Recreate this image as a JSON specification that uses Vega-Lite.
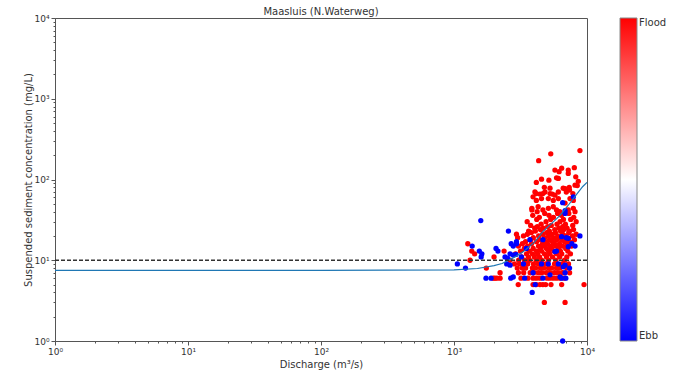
{
  "$schema": "https://vega.github.io/schema/vega-lite/v6.json",
  "width": 532,
  "height": 323,
  "autosize": {"type": "none"},
  "padding": {"left": 55, "top": 18, "right": 90, "bottom": 30},
  "title": {"text": "Maasluis (N.Waterweg)", "fontSize": 10, "fontWeight": "normal", "color": "#333", "offset": -3, "font": "DejaVu Sans"},
  "config": {
    "font": "DejaVu Sans",
    "view": {"stroke": "#555", "strokeWidth": 1},
    "axis": {"grid": false, "labelFontSize": 9, "titleFontSize": 10, "labelColor": "#333", "titleColor": "#333", "titleFontWeight": "normal", "tickColor": "#555", "domainColor": "#555", "labelFlush": false, "labelOverlap": false},
    "legend": {"labelFontSize": 10, "labelColor": "#333"}
  },
  "datasets": {
    "ref": [{"q": 1, "c": 10}, {"q": 10000, "c": 10}],
    "fit": [
      {"q": 1, "c": 7.5}, {"q": 100, "c": 7.5}, {"q": 1000, "c": 7.6}, {"q": 1500, "c": 7.9}, {"q": 2000, "c": 8.6},
      {"q": 2300, "c": 9.1}, {"q": 2875, "c": 11.0}, {"q": 3330, "c": 12.8}, {"q": 4060, "c": 17}, {"q": 4660, "c": 22.6},
      {"q": 5430, "c": 28.6}, {"q": 6270, "c": 36}, {"q": 6840, "c": 43}, {"q": 7230, "c": 48}, {"q": 8130, "c": 62},
      {"q": 9300, "c": 82}, {"q": 10000, "c": 92}
    ],
    "pts": [
      {"q":8850,"c":228,"t":1},{"q":5340,"c":208,"t":1},{"q":4330,"c":171,"t":1},{"q":6450,"c":138,"t":1},{"q":8030,"c":140,"t":1},
      {"q":7230,"c":131,"t":1},{"q":5740,"c":131,"t":1},{"q":6170,"c":125,"t":1},{"q":7230,"c":119,"t":1},{"q":8230,"c":108,"t":1},
      {"q":5900,"c":105,"t":1},{"q":6090,"c":103,"t":1},{"q":4550,"c":101,"t":1},{"q":5170,"c":98,"t":1},{"q":8600,"c":95,"t":1},
      {"q":4160,"c":92,"t":1},{"q":8130,"c":85,"t":1},{"q":8450,"c":84,"t":1},{"q":4780,"c":80,"t":1},{"q":7350,"c":80,"t":1},
      {"q":5270,"c":78,"t":1},{"q":6620,"c":78,"t":1},{"q":6840,"c":77,"t":1},{"q":7390,"c":74,"t":1},{"q":4060,"c":70,"t":1},
      {"q":4830,"c":70,"t":1},{"q":6090,"c":70,"t":1},{"q":6990,"c":70,"t":1},{"q":4160,"c":67,"t":1},{"q":4430,"c":66,"t":1},
      {"q":4660,"c":67,"t":1},{"q":5270,"c":67,"t":1},{"q":5480,"c":66,"t":1},{"q":7830,"c":67,"t":1},{"q":5740,"c":64,"t":1},
      {"q":3930,"c":61,"t":1},{"q":4550,"c":58,"t":1},{"q":5120,"c":58,"t":1},{"q":6090,"c":58,"t":1},{"q":7450,"c":58,"t":1},
      {"q":4160,"c":55,"t":1},{"q":5580,"c":55,"t":1},{"q":7890,"c":55,"t":1},{"q":6840,"c":51,"t":1},{"q":4290,"c":46,"t":1},
      {"q":5580,"c":46,"t":1},{"q":3850,"c":44,"t":1},{"q":5120,"c":44,"t":1},{"q":7890,"c":44,"t":1},{"q":3850,"c":42,"t":1},
      {"q":4660,"c":42,"t":1},{"q":5900,"c":42,"t":1},{"q":7230,"c":42,"t":1},{"q":4220,"c":40,"t":1},{"q":6240,"c":40,"t":1},
      {"q":8130,"c":40,"t":1},{"q":4810,"c":38,"t":1},{"q":6010,"c":38,"t":1},{"q":7300,"c":38,"t":1},{"q":3910,"c":36,"t":1},
      {"q":5180,"c":36,"t":1},{"q":6420,"c":36,"t":1},{"q":4380,"c":34,"t":1},{"q":5590,"c":34,"t":1},{"q":7950,"c":34,"t":1},
      {"q":4190,"c":32,"t":1},{"q":5330,"c":32,"t":1},{"q":6650,"c":32,"t":1},{"q":7540,"c":32,"t":1},{"q":3550,"c":30,"t":1},
      {"q":4920,"c":30,"t":1},{"q":6270,"c":30,"t":1},{"q":8290,"c":30,"t":1},{"q":4520,"c":28,"t":1},{"q":5950,"c":28,"t":1},
      {"q":6880,"c":28,"t":1},{"q":3770,"c":27,"t":1},{"q":5390,"c":27,"t":1},{"q":7810,"c":27,"t":1},{"q":4230,"c":26,"t":1},
      {"q":5060,"c":26,"t":1},{"q":6570,"c":26,"t":1},{"q":4040,"c":25,"t":1},{"q":4690,"c":25,"t":1},{"q":6130,"c":25,"t":1},
      {"q":7080,"c":25,"t":1},{"q":4470,"c":24,"t":1},{"q":5720,"c":24,"t":1},{"q":6680,"c":24,"t":1},{"q":7920,"c":24,"t":1},
      {"q":3640,"c":23,"t":1},{"q":4090,"c":23,"t":1},{"q":5210,"c":23,"t":1},{"q":6330,"c":23,"t":1},{"q":7380,"c":23,"t":1},
      {"q":3820,"c":22,"t":1},{"q":4980,"c":22,"t":1},{"q":5790,"c":22,"t":1},{"q":7290,"c":22,"t":1},{"q":2950,"c":21,"t":1},
      {"q":3560,"c":21,"t":1},{"q":4640,"c":21,"t":1},{"q":5400,"c":21,"t":1},{"q":6560,"c":21,"t":1},{"q":8290,"c":21,"t":1},
      {"q":3330,"c":20,"t":1},{"q":4330,"c":20,"t":1},{"q":5150,"c":20,"t":1},{"q":6020,"c":20,"t":1},{"q":6910,"c":20,"t":1},
      {"q":7770,"c":20,"t":1},{"q":3010,"c":19,"t":1},{"q":3950,"c":19,"t":1},{"q":4800,"c":19,"t":1},{"q":5610,"c":19,"t":1},
      {"q":6320,"c":19,"t":1},{"q":7160,"c":19,"t":1},{"q":3760,"c":18,"t":1},{"q":4390,"c":18,"t":1},{"q":5230,"c":18,"t":1},
      {"q":5920,"c":18,"t":1},{"q":6450,"c":18,"t":1},{"q":8050,"c":18,"t":1},{"q":3450,"c":17,"t":1},{"q":4170,"c":17,"t":1},
      {"q":4870,"c":17,"t":1},{"q":5510,"c":17,"t":1},{"q":6790,"c":17,"t":1},{"q":7400,"c":17,"t":1},{"q":1270,"c":16,"t":1},
      {"q":3270,"c":16,"t":1},{"q":3830,"c":16,"t":1},{"q":4630,"c":16,"t":1},{"q":5050,"c":16,"t":1},{"q":5700,"c":16,"t":1},
      {"q":6220,"c":16,"t":1},{"q":7060,"c":16,"t":1},{"q":3050,"c":15,"t":1},{"q":3570,"c":15,"t":1},{"q":4320,"c":15,"t":1},
      {"q":4710,"c":15,"t":1},{"q":5320,"c":15,"t":1},{"q":5810,"c":15,"t":1},{"q":6550,"c":15,"t":1},{"q":7660,"c":15,"t":1},
      {"q":3380,"c":14,"t":1},{"q":3940,"c":14,"t":1},{"q":4470,"c":14,"t":1},{"q":4960,"c":14,"t":1},{"q":5420,"c":14,"t":1},
      {"q":6120,"c":14,"t":1},{"q":6920,"c":14,"t":1},{"q":1360,"c":13,"t":1},{"q":2380,"c":13,"t":1},{"q":3160,"c":13,"t":1},
      {"q":3690,"c":13,"t":1},{"q":4170,"c":13,"t":1},{"q":4550,"c":13,"t":1},{"q":5140,"c":13,"t":1},{"q":5620,"c":13,"t":1},
      {"q":6310,"c":13,"t":1},{"q":7170,"c":13,"t":1},{"q":1430,"c":12,"t":1},{"q":2900,"c":12,"t":1},{"q":3510,"c":12,"t":1},
      {"q":3890,"c":12,"t":1},{"q":4250,"c":12,"t":1},{"q":4790,"c":12,"t":1},{"q":5230,"c":12,"t":1},{"q":5900,"c":12,"t":1},
      {"q":6460,"c":12,"t":1},{"q":7510,"c":12,"t":1},{"q":2000,"c":11,"t":1},{"q":3220,"c":11,"t":1},{"q":3630,"c":11,"t":1},
      {"q":4020,"c":11,"t":1},{"q":4400,"c":11,"t":1},{"q":4960,"c":11,"t":1},{"q":5500,"c":11,"t":1},{"q":6230,"c":11,"t":1},
      {"q":7050,"c":11,"t":1},{"q":1320,"c":10,"t":1},{"q":2640,"c":10,"t":1},{"q":3060,"c":10,"t":1},{"q":3390,"c":10,"t":1},
      {"q":3700,"c":10,"t":1},{"q":4160,"c":10,"t":1},{"q":4560,"c":10,"t":1},{"q":5130,"c":10,"t":1},{"q":5830,"c":10,"t":1},
      {"q":6780,"c":10,"t":1},{"q":2850,"c":9,"t":1},{"q":3110,"c":9,"t":1},{"q":3580,"c":9,"t":1},{"q":3960,"c":9,"t":1},
      {"q":4310,"c":9,"t":1},{"q":4890,"c":9,"t":1},{"q":5700,"c":9,"t":1},{"q":6470,"c":9,"t":1},{"q":7260,"c":9,"t":1},
      {"q":1750,"c":8,"t":1},{"q":2990,"c":8,"t":1},{"q":3260,"c":8,"t":1},{"q":3460,"c":8,"t":1},{"q":3880,"c":8,"t":1},
      {"q":4110,"c":8,"t":1},{"q":4460,"c":8,"t":1},{"q":4730,"c":8,"t":1},{"q":5130,"c":8,"t":1},{"q":5430,"c":8,"t":1},
      {"q":5890,"c":8,"t":1},{"q":6240,"c":8,"t":1},{"q":7040,"c":8,"t":1},{"q":2220,"c":7,"t":1},{"q":3050,"c":7,"t":1},
      {"q":3340,"c":7,"t":1},{"q":3740,"c":7,"t":1},{"q":3970,"c":7,"t":1},{"q":4300,"c":7,"t":1},{"q":4570,"c":7,"t":1},
      {"q":4950,"c":7,"t":1},{"q":5250,"c":7,"t":1},{"q":5690,"c":7,"t":1},{"q":6040,"c":7,"t":1},{"q":6530,"c":7,"t":1},
      {"q":7400,"c":7,"t":1},{"q":1970,"c":6,"t":1},{"q":2030,"c":6,"t":1},{"q":2100,"c":6,"t":1},{"q":2220,"c":6,"t":1},
      {"q":3190,"c":6,"t":1},{"q":3600,"c":6,"t":1},{"q":3930,"c":6,"t":1},{"q":4160,"c":6,"t":1},{"q":4430,"c":6,"t":1},
      {"q":5010,"c":6,"t":1},{"q":5270,"c":6,"t":1},{"q":5580,"c":6,"t":1},{"q":5900,"c":6,"t":1},{"q":6270,"c":6,"t":1},
      {"q":6730,"c":6,"t":1},{"q":3040,"c":5,"t":1},{"q":3930,"c":5,"t":1},{"q":4160,"c":5,"t":1},{"q":4430,"c":5,"t":1},
      {"q":4660,"c":5,"t":1},{"q":4890,"c":5,"t":1},{"q":5360,"c":5,"t":1},{"q":6450,"c":5,"t":1},{"q":9500,"c":5,"t":1},
      {"q":4780,"c":3,"t":1},{"q":6840,"c":3,"t":1},
      {"q":1590,"c":31,"t":0},{"q":2565,"c":23,"t":0},{"q":8850,"c":20,"t":0},{"q":6450,"c":19.6,"t":0},{"q":6990,"c":19,"t":0},
      {"q":7230,"c":18.7,"t":0},{"q":4660,"c":18,"t":0},{"q":3720,"c":18,"t":0},{"q":2950,"c":17,"t":0},{"q":2690,"c":16,"t":0},
      {"q":2950,"c":16,"t":0},{"q":7700,"c":16,"t":0},{"q":1370,"c":15,"t":0},{"q":2790,"c":15,"t":0},{"q":8130,"c":15,"t":0},
      {"q":7230,"c":14.7,"t":0},{"q":2070,"c":14,"t":0},{"q":3500,"c":14,"t":0},{"q":2140,"c":13,"t":0},{"q":1550,"c":13,"t":0},
      {"q":5900,"c":13,"t":0},{"q":5740,"c":12.8,"t":0},{"q":1620,"c":12,"t":0},{"q":2640,"c":12,"t":0},{"q":2920,"c":11.8,"t":0},
      {"q":1600,"c":11,"t":0},{"q":2420,"c":11,"t":0},{"q":3210,"c":11,"t":0},{"q":2790,"c":11.6,"t":0},{"q":2530,"c":10.6,"t":0},
      {"q":1060,"c":9,"t":0},{"q":2490,"c":9,"t":0},{"q":3330,"c":9,"t":0},{"q":4550,"c":9,"t":0},{"q":5120,"c":9,"t":0},
      {"q":6090,"c":9,"t":0},{"q":6840,"c":8.7,"t":0},{"q":2640,"c":8.7,"t":0},{"q":1220,"c":8,"t":0},{"q":7390,"c":8,"t":0},
      {"q":6620,"c":8.3,"t":0},{"q":3930,"c":7,"t":0},{"q":6840,"c":7,"t":0},{"q":5270,"c":6.6,"t":0},{"q":1740,"c":6,"t":0},
      {"q":1900,"c":6,"t":0},{"q":2670,"c":6,"t":0},{"q":2790,"c":6.2,"t":0},{"q":3400,"c":6,"t":0},{"q":4660,"c":6,"t":0},
      {"q":6450,"c":6,"t":0},{"q":6930,"c":6,"t":0},{"q":6270,"c":6.2,"t":0},{"q":4080,"c":5,"t":0},{"q":3870,"c":4,"t":0},
      {"q":6560,"c":1,"t":0},{"q":6840,"c":41,"t":0},{"q":6560,"c":51.7,"t":0},{"q":7890,"c":61,"t":0},{"q":6840,"c":38,"t":0}
    ]
  },
  "encoding": {
    "x": {
      "field": "q", "type": "quantitative",
      "scale": {"type": "log", "domain": [1, 10000], "nice": false},
      "axis": {
        "title": "Discharge (m³/s)",
        "values": [1,2,3,4,5,6,7,8,9,10,20,30,40,50,60,70,80,90,100,200,300,400,500,600,700,800,900,1000,2000,3000,4000,5000,6000,7000,8000,9000,10000],
        "labelExpr": "datum.value == 1 ? '10⁰' : datum.value == 10 ? '10¹' : datum.value == 100 ? '10²' : datum.value == 1000 ? '10³' : datum.value == 10000 ? '10⁴' : ''",
        "tickSize": {"condition": {"test": "indexof([1,10,100,1000,10000], datum.value) >= 0", "value": 4}, "value": 2},
        "labelPadding": 2,
        "titlePadding": 3
      }
    },
    "y": {
      "field": "c", "type": "quantitative",
      "scale": {"type": "log", "domain": [1, 10000], "nice": false},
      "axis": {
        "title": "Suspended sediment concentration (mg/L)",
        "values": [1,2,3,4,5,6,7,8,9,10,20,30,40,50,60,70,80,90,100,200,300,400,500,600,700,800,900,1000,2000,3000,4000,5000,6000,7000,8000,9000,10000],
        "labelExpr": "datum.value == 1 ? '10⁰' : datum.value == 10 ? '10¹' : datum.value == 100 ? '10²' : datum.value == 1000 ? '10³' : datum.value == 10000 ? '10⁴' : ''",
        "tickSize": {"condition": {"test": "indexof([1,10,100,1000,10000], datum.value) >= 0", "value": 4}, "value": 2},
        "labelPadding": 2,
        "titlePadding": 0
      }
    }
  },
  "layer": [
    {
      "data": {"name": "pts"},
      "mark": {"type": "point", "filled": true, "size": 28, "opacity": 1, "strokeWidth": 0},
      "encoding": {
        "color": {
          "field": "t", "type": "quantitative",
          "scale": {"domain": [0, 0.5, 1], "range": ["#0000ff", "#ffffff", "#ff0000"], "interpolate": "rgb"},
          "legend": {
            "title": null, "values": [0, 1],
            "labelExpr": "datum.value == 1 ? 'Flood' : 'Ebb'",
            "gradientLength": 323, "gradientThickness": 17, "offset": 33,
            "gradientStrokeColor": "#888", "gradientStrokeWidth": 1, "direction": "vertical"
          }
        }
      }
    },
    {
      "data": {"name": "fit"},
      "mark": {"type": "line", "color": "#1f77b4", "strokeWidth": 1.2},
      "encoding": {}
    },
    {
      "data": {"name": "ref"},
      "mark": {"type": "line", "color": "#333", "strokeWidth": 1.3, "strokeDash": [4, 2]},
      "encoding": {}
    }
  ]
}
